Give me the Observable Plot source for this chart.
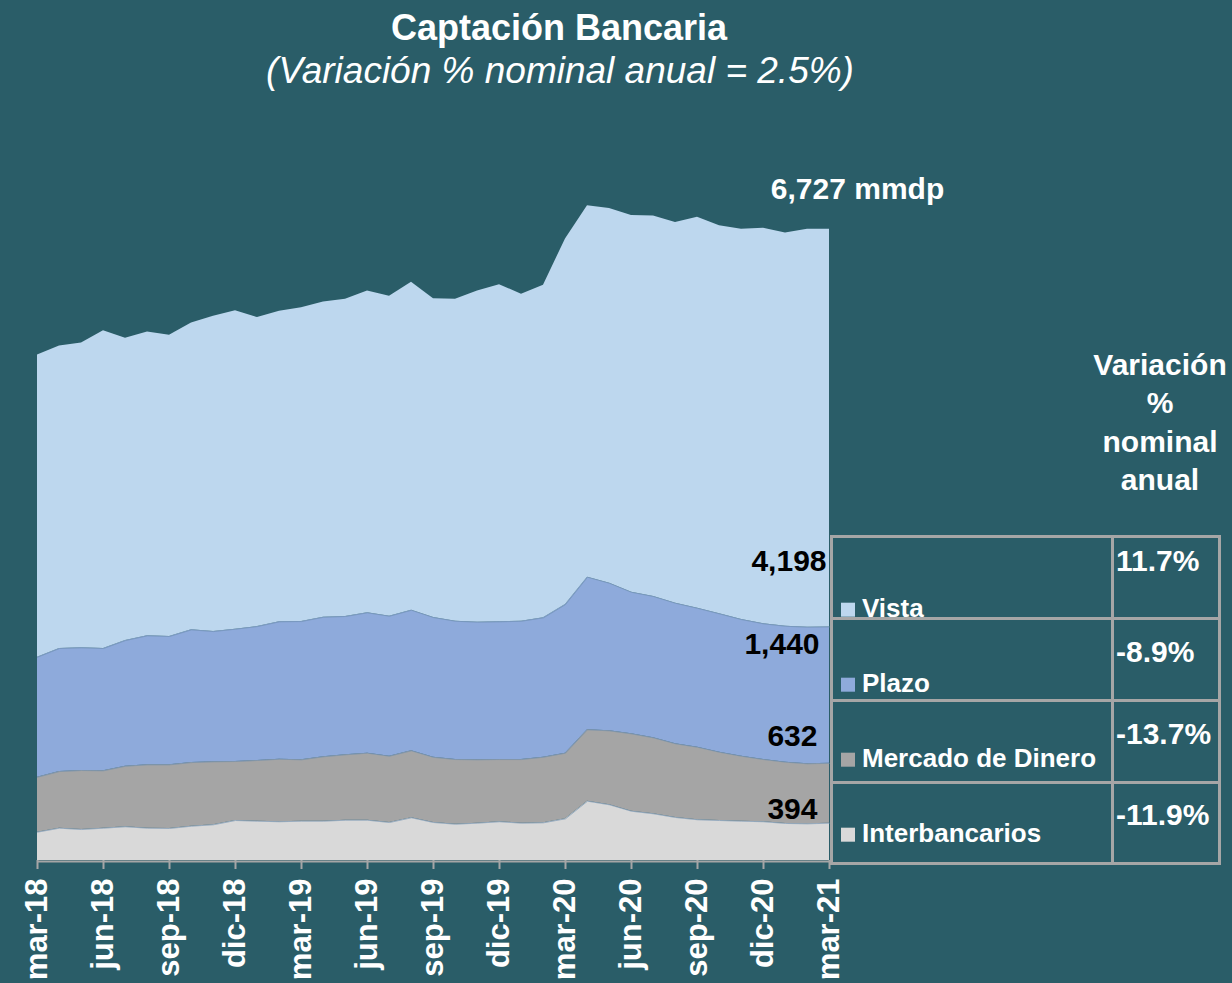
<!DOCTYPE html>
<html><head><meta charset="utf-8">
<script src="https://cdn.jsdelivr.net/npm/d3@7"></script>
<script src="https://cdn.jsdelivr.net/npm/@observablehq/plot@0.6"></script>
<style>
html,body{margin:0;padding:0;background:#2a5d68;width:1232px;height:983px;overflow:hidden}
#wrap{position:relative;width:1232px;height:983px;font-family:"Liberation Sans",Arial,sans-serif}
#chart{position:absolute;left:0;top:0}
#overlay{position:absolute;left:0;top:0;pointer-events:none}
</style></head>
<body><div id="wrap"><div id="chart"></div><svg id="overlay" width="1232" height="983"></svg></div>
<script>
// ---- data ----
const months = ["mar-18","abr-18","may-18","jun-18","jul-18","ago-18","sep-18","oct-18","nov-18","dic-18",
  "ene-19","feb-19","mar-19","abr-19","may-19","jun-19","jul-19","ago-19","sep-19","oct-19","nov-19","dic-19",
  "ene-20","feb-20","mar-20","abr-20","may-20","jun-20","jul-20","ago-20","sep-20","oct-20","nov-20","dic-20",
  "ene-21","feb-21","mar-21"];
const tickLabels = ["mar-18","jun-18","sep-18","dic-18","mar-19","jun-19","sep-19","dic-19","mar-20","jun-20","sep-20","dic-20","mar-21"];
const series = ["Interbancarios","Mercado de Dinero","Plazo","Vista"];
const interbancarios = [299,341,327,341,356,341,338,362,377,422,415,409,415,415,425,425,401,451,401,383,394,409,394,398,440,626,588,520,493,454,430,422,415,409,391,387,394];
const mercado = [580,598,623,606,639,669,672,672,665,623,641,660,648,680,691,708,700,707,688,683,669,657,672,692,693,754,781,817,802,778,766,721,686,657,647,634,632];
const plazo = [1267,1299,1295,1291,1327,1362,1355,1401,1375,1397,1414,1451,1460,1473,1460,1482,1478,1484,1476,1460,1453,1454,1460,1472,1569,1611,1558,1495,1492,1484,1467,1461,1443,1433,1435,1442,1440];
const vista = [3192,3195,3220,3354,3191,3209,3180,3241,3329,3361,3262,3278,3314,3330,3349,3399,3378,3463,3367,3399,3498,3560,3452,3511,3861,3923,3956,3977,4018,4019,4128,4099,4120,4176,4153,4201,4198];
const colors = ["#d9d9d9","#a5a5a5","#8eaadb","#bdd7ee"];
const variacion = ["-11.9%","-13.7%","-8.9%","11.7%"];
const totalLabel = "6,727 mmdp";
const titleText = "Captación Bancaria";
const subtitleText = "(Variación % nominal anual = 2.5%)";
const headerLines = ["Variación","%","nominal","anual"];

// ---- build ----
const values = [interbancarios, mercado, plazo, vista];
const rows = series.flatMap((s, si) => values[si].map((v, i) => ({month: months[i], serie: s, value: v})));
const last = months.length - 1;
const lastVals = values.map(v => v[last]);
const cum = Array.from(d3.cumsum(lastVals));
const fmt = d3.format(",");
// label anchors: layer top for the three lower layers, Plazo top for Vista
const anchorIdx = [0, 1, 2, 2];
const labelPos = [{dx: -12, dy: -4}, {dx: -12, dy: -17}, {dx: -10, dy: 27}, {dx: -3, dy: -56}];

const marks = [
  Plot.areaY(rows, {x: "month", y: "value", z: "serie", fill: "serie"}),
  Plot.lineY(rows, Plot.stackY2({x: "month", y: "value", z: "serie", stroke: "#6b8cae", strokeWidth: 1,
    strokeOpacity: d => d.serie === "Vista" ? 0 : 0.6})),
  Plot.ruleY([0], {stroke: "#a6a6a6", strokeWidth: 2, dy: 1}),
  Plot.axisX(tickLabels, {tickSize: 9, tickPadding: 9, tickRotate: -90, stroke: "#a6a6a6", fill: "white",
    fontSize: 31, fontWeight: "bold", strokeWidth: 2}),
  Plot.text([{month: months[last], y: cum[3]}], {x: "month", y: "y", text: () => totalLabel, dx: 28, dy: -30,
    textAnchor: "middle", lineAnchor: "bottom", fill: "white", fontSize: 30, fontWeight: "bold"})
];
series.forEach((s, i) => {
  marks.push(Plot.text([{month: months[last], y: cum[anchorIdx[i]], label: fmt(lastVals[i])}], {
    x: "month", y: "y", text: "label", textAnchor: "end", lineAnchor: "bottom",
    dx: labelPos[i].dx, dy: labelPos[i].dy, fill: "black", fontSize: 30, fontWeight: "bold"}));
});

const chart = Plot.plot({
  width: 1232, height: 983,
  marginLeft: 37, marginRight: 403, marginTop: 197, marginBottom: 123,
  style: {background: "transparent", fontFamily: "'Liberation Sans', Arial, sans-serif", overflow: "visible"},
  x: {type: "point", domain: months, padding: 0, label: null},
  y: {domain: [0, 7000], axis: null},
  color: {domain: series, range: colors},
  marks
});
document.getElementById("chart").appendChild(chart);

// ---- overlay: titles, header, legend table ----
const svg = d3.select("#overlay").style("font-family", "'Liberation Sans', Arial, sans-serif");
svg.append("text").attr("x", 559).attr("y", 40).attr("text-anchor", "middle").attr("fill", "white")
  .attr("font-size", 36).attr("font-weight", "bold").text(titleText);
svg.append("text").attr("x", 560).attr("y", 83).attr("text-anchor", "middle").attr("fill", "white")
  .attr("font-size", 37).attr("font-style", "italic").text(subtitleText);
headerLines.forEach((t, i) => {
  svg.append("text").attr("x", 1160).attr("y", 375 + i * 38.3).attr("text-anchor", "middle").attr("fill", "white")
    .attr("font-size", 30).attr("font-weight", "bold").text(t);
});
const order = [3, 2, 1, 0];
const pctBase = [571, 662, 744, 825];
order.forEach((si, r) => {
  const base = 616.7 + r * 75;
  svg.append("rect").attr("x", 841).attr("y", base - 14).attr("width", 14).attr("height", 14).attr("fill", colors[si]);
  svg.append("text").attr("x", 862).attr("y", base).attr("fill", "white").attr("font-size", 26)
    .attr("font-weight", "bold").text(series[si]);
  svg.append("text").attr("x", 1116).attr("y", pctBase[r]).attr("fill", "white").attr("font-size", 30)
    .attr("font-weight", "bold").text(variacion[si]);
});
const hLines = [536.5, 618.5, 700.5, 782.5, 863.5];
const vLines = [831.5, 1112.5, 1219.5];
hLines.forEach(y => svg.append("line").attr("x1", 830).attr("x2", 1221).attr("y1", y).attr("y2", y)
  .attr("stroke", "#a6a6a6").attr("stroke-width", 3));
vLines.forEach(x => svg.append("line").attr("x1", x).attr("x2", x).attr("y1", 535).attr("y2", 865)
  .attr("stroke", "#a6a6a6").attr("stroke-width", 3));
</script></body></html>
